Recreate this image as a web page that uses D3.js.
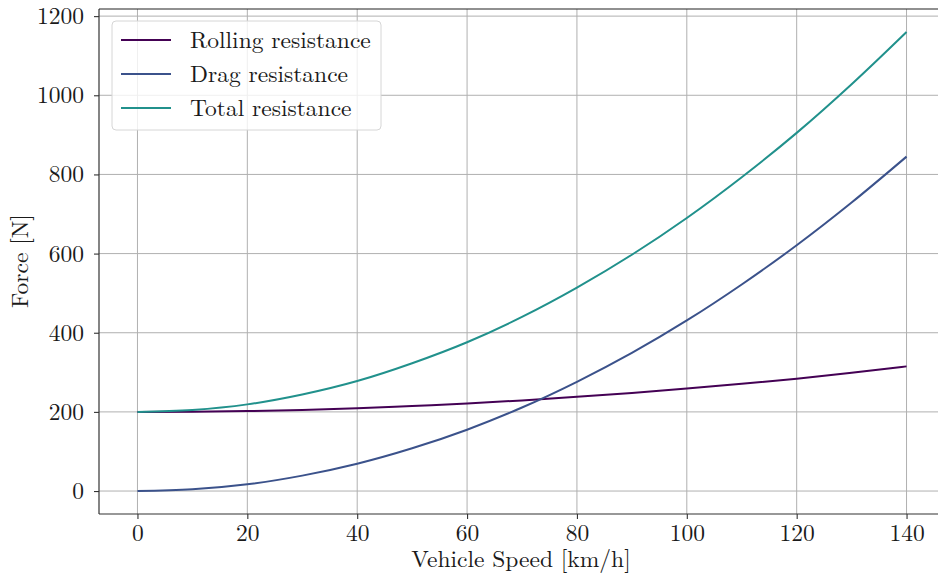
<!DOCTYPE html>
<html lang="en">
<head>
  <meta charset="UTF-8">
  <title>Driving Resistance vs Speed</title>
  <script src="https://d3js.org/d3.v7.min.js"></script>
  <style>
    body {
      margin: 0;
      background: #fff;
    }
    svg {
      display: block;
      font-family: 'Latin Modern Roman', 'CMU Serif', 'Liberation Serif', serif;
    }
    .tick text {
      font-size: 23.5px;
      fill: #1a1a1a;
    }
    .axis-label {
      font-size: 23.5px;
      fill: #1a1a1a;
    }
    .legend text {
      font-size: 23.5px;
      fill: #1a1a1a;
    }
  </style>
</head>
<body>
  <svg width="938" height="576"></svg>

  <script>
    // values, every 10 km/h
    const speeds = [0, 10, 20, 30, 40, 50, 60, 70, 80, 90, 100, 110, 120, 130, 140];
    const rolling = [200, 200.6, 202, 205, 209, 215, 221, 229, 238, 248, 259, 271, 284, 299, 315];
    const drag = [0, 4.3, 17, 39, 69, 108, 155, 211, 276, 349, 431, 522, 621, 729, 845];
    const total = [200, 205, 219, 244, 278, 323, 376, 440, 514, 597, 690, 793, 905, 1028, 1160];
    const seriesNames = ["Rolling resistance", "Drag resistance", "Total resistance"];
    const seriesColors = ["#440154", "#3b528b", "#21918c"];
    const xTicks = [0, 20, 40, 60, 80, 100, 120, 140];
    const yTicks = [0, 200, 400, 600, 800, 1000, 1200];

    const svg = d3.select("svg"),
          margin = {top: 9, right: -7, bottom: 62, left: 99},
          width = +svg.attr("width") - margin.left - margin.right,
          height = +svg.attr("height") - margin.top - margin.bottom,
          chart = svg.append("g").attr("transform", `translate(${margin.left},${margin.top})`);

    const x = d3.scaleLinear().domain([-7, 147]).range([0, width]);
    const y = d3.scaleLinear().domain([-58, 1218]).range([height, 0]);

    // grid
    chart.append("g")
      .selectAll("line")
      .data(xTicks)
      .enter().append("line")
        .attr("x1", d => x(d)).attr("x2", d => x(d))
        .attr("y1", 0).attr("y2", height)
        .attr("stroke", "#b0b0b0").attr("stroke-width", 1);

    chart.append("g")
      .selectAll("line")
      .data(yTicks)
      .enter().append("line")
        .attr("x1", 0).attr("x2", width)
        .attr("y1", d => y(d)).attr("y2", d => y(d))
        .attr("stroke", "#b0b0b0").attr("stroke-width", 1);

    // curves
    const data = [rolling, drag, total];
    const line = d3.line()
      .x((d, i) => x(speeds[i]))
      .y(d => y(d))
      .curve(d3.curveMonotoneX);

    data.forEach((vals, k) => {
      chart.append("path")
        .datum(vals)
        .attr("fill", "none")
        .attr("stroke", seriesColors[k])
        .attr("stroke-width", 2)
        .attr("d", line);
    });

    // axes
    const xAxis = chart.append("g")
      .attr("transform", `translate(0,${height})`)
      .call(d3.axisBottom(x).tickValues(xTicks).tickFormat(d3.format("d")).tickSize(5).tickPadding(6));
    const yAxis = chart.append("g")
      .call(d3.axisLeft(y).tickValues(yTicks).tickFormat(d3.format("d")).tickSize(5).tickPadding(10));

    [xAxis, yAxis].forEach(a => {
      a.attr("font-family", null).attr("font-size", null);
      a.select(".domain").remove();
      a.selectAll(".tick line").attr("stroke", "#333").attr("stroke-width", 1.1);
    });
    xAxis.selectAll(".tick text").attr("y", 27).attr("dy", 0);

    // spines
    chart.append("line").attr("x1", 0).attr("x2", width).attr("y1", height).attr("y2", height)
      .attr("stroke", "#333").attr("stroke-width", 1.2);
    chart.append("line").attr("x1", 0).attr("x2", 0).attr("y1", 0).attr("y2", height)
      .attr("stroke", "#333").attr("stroke-width", 1.2);
    chart.append("line").attr("x1", 0).attr("x2", width).attr("y1", 0).attr("y2", 0)
      .attr("stroke", "#222").attr("stroke-width", 1.2);

    // labels
    svg.append("text")
      .attr("class", "axis-label")
      .attr("x", 521)
      .attr("y", 567)
      .attr("text-anchor", "middle")
      .text("Vehicle Speed [km/h]");

    svg.append("text")
      .attr("class", "axis-label")
      .attr("transform", `translate(28,261) rotate(-90)`)
      .attr("text-anchor", "middle")
      .text("Force [N]");

    // legend
    const legend = chart.append("g").attr("class", "legend")
      .attr("transform", "translate(13,12)");

    legend.append("rect")
      .attr("width", 269).attr("height", 109)
      .attr("rx", 4)
      .attr("fill", "#fff").attr("fill-opacity", 0.8)
      .attr("stroke", "#d6d6d6");

    seriesNames.forEach((name, k) => {
      const cy = 19 + k * 34;
      legend.append("line")
        .attr("x1", 9).attr("x2", 59)
        .attr("y1", cy).attr("y2", cy)
        .attr("stroke", seriesColors[k]).attr("stroke-width", 2);
      legend.append("text")
        .attr("x", 78).attr("y", cy)
        .attr("dy", "0.35em")
        .text(name);
    });
  </script>
</body>
</html>
